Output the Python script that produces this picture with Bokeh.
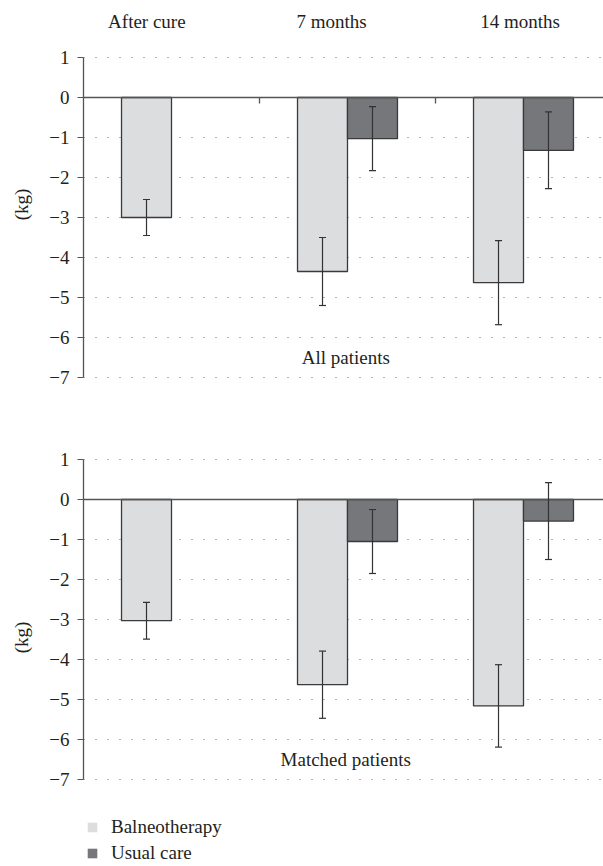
import math
from bokeh.plotting import figure
from bokeh.layouts import column
from bokeh.models import (Range1d, FixedTicker, Whisker, TeeHead, ColumnDataSource,
                          Legend, LegendItem, Span)
from bokeh.embed import file_html
from bokeh.resources import INLINE
from bokeh.core.properties import value

# ---------------- data ----------------
categories = ["After cure", "7 months", "14 months"]
series = ["Balneotherapy", "Usual care"]

all_balneo = [-3.0, -4.35, -4.63]
all_balneo_err = [0.45, 0.85, 1.05]
all_usual = [None, -1.03, -1.32]
all_usual_err = [None, 0.80, 0.96]

matched_balneo = [-3.03, -4.63, -5.16]
matched_balneo_err = [0.46, 0.84, 1.03]
matched_usual = [None, -1.05, -0.54]
matched_usual_err = [None, 0.80, 0.96]

y_ticks = [-7, -6, -5, -4, -3, -2, -1, 0, 1]

# ---------------- style ----------------
FONT = "Liberation Serif"
FS = "19px"
TXT = "#231f20"
BALNEO_COLOR = "#dcdddf"
USUAL_COLOR = "#76777b"
EDGE = "#3a3a3a"
BAR_W = 0.284
OFFSET = 0.142
PX_PER_CAT = 176.0
FRAME_W = 520
LEFT = 83


def make_panel(balneo, berr, usual, uerr, note, y_bottom, y_top, height,
               top_labels, cat_ticks):
    p = figure(width=LEFT + FRAME_W, height=height,
               x_range=Range1d(0, FRAME_W / PX_PER_CAT),
               y_range=Range1d(y_bottom, y_top),
               output_backend="svg", toolbar_location=None,
               x_axis_location=None,
               min_border_left=LEFT, min_border_right=0,
               min_border_top=0, min_border_bottom=0)
    p.outline_line_color = None
    p.background_fill_color = "white"
    p.border_fill_color = "white"

    # y axis
    ax = p.yaxis[0]
    ax.ticker = FixedTicker(ticks=y_ticks)
    ax.bounds = (min(y_ticks), max(y_ticks))
    ax.major_label_overrides = {t: str(t).replace("-", "\u2212") for t in y_ticks}
    ax.axis_line_color = "#555555"
    ax.axis_line_width = 1.3
    ax.major_tick_line_color = "#555555"
    ax.major_tick_out = 6
    ax.major_tick_in = 0
    ax.minor_tick_line_color = None
    ax.major_label_standoff = 8
    ax.major_label_text_font = FONT
    ax.major_label_text_font_size = FS
    ax.major_label_text_color = TXT
    ax.axis_label = "(kg)"
    ax.axis_label_standoff = 14
    ax.axis_label_text_font = FONT
    ax.axis_label_text_font_size = FS
    ax.axis_label_text_font_style = "normal"
    ax.axis_label_text_color = TXT

    # grid
    p.xgrid.visible = False
    p.ygrid.ticker = FixedTicker(ticks=[t for t in y_ticks if t != 0])
    p.ygrid.grid_line_color = "#666666"
    p.ygrid.grid_line_dash = "1 11"
    p.ygrid.grid_line_width = 1

    # zero line
    p.add_layout(Span(location=0, dimension="width", line_color="#555555",
                      line_width=1.5, level="glyph"))

    centers = [i + 0.5 for i in range(len(categories))]
    bx = [c - OFFSET for c in centers]
    ux = [c + OFFSET for c, v in zip(centers, usual) if v is not None]
    uv = [v for v in usual if v is not None]
    ue = [e for e in uerr if e is not None]

    p.vbar(x=bx, top=balneo, bottom=0, width=BAR_W, fill_color=BALNEO_COLOR,
           line_color=EDGE, line_width=1.3)
    p.vbar(x=ux, top=uv, bottom=0, width=BAR_W, fill_color=USUAL_COLOR,
           line_color=EDGE, line_width=1.3)

    for xs, vs, es in ((bx, balneo, berr), (ux, uv, ue)):
        src = ColumnDataSource(dict(x=xs,
                                    upper=[v + e for v, e in zip(vs, es)],
                                    lower=[v - e for v, e in zip(vs, es)]))
        w = Whisker(base="x", upper="upper", lower="lower", source=src,
                    line_color="#333333", line_width=1.2, level="overlay",
                    upper_head=TeeHead(size=7, line_color="#333333", line_width=1.2),
                    lower_head=TeeHead(size=7, line_color="#333333", line_width=1.2))
        p.add_layout(w)

    if cat_ticks:
        b = list(range(1, len(categories)))
        p.segment(x0=b, x1=b, y0=[0] * len(b), y1=[-0.15] * len(b),
                  line_color="#555555", line_width=1.3)

    if top_labels:
        p.text(x=[0.36, 1.41, 2.48], y=[1.9] * 3, text=categories,
               text_font=value(FONT), text_font_size=FS, text_color=TXT,
               text_align="center", text_baseline="middle")

    p.text(x=[1.49], y=[-6.5], text=[note], text_font=value(FONT),
           text_font_size=FS, text_color=TXT, text_align="center",
           text_baseline="middle")
    return p


p1 = make_panel(all_balneo, all_balneo_err, all_usual, all_usual_err,
                "All patients", -7.775, 2.425, 408, True, True)
p2 = make_panel(matched_balneo, matched_balneo_err, matched_usual,
                matched_usual_err, "Matched patients", -9.175, 2.275, 458,
                False, False)

nan = float("nan")
r1 = p2.vbar(x=[0.5], top=[nan], width=BAR_W, fill_color=BALNEO_COLOR, line_color=None)
r2 = p2.vbar(x=[0.5], top=[nan], width=BAR_W, fill_color=USUAL_COLOR, line_color=None)
legend = Legend(items=[LegendItem(label=series[0], renderers=[r1]),
                       LegendItem(label=series[1], renderers=[r2])],
                location=(3, 2), orientation="vertical",
                glyph_width=12, glyph_height=12, label_standoff=13,
                label_text_font=FONT, label_text_font_size=FS,
                label_text_color=TXT, label_height=16, spacing=4,
                padding=0, margin=0, border_line_alpha=0,
                background_fill_alpha=0)
p2.add_layout(legend)

layout = column(p1, p2, spacing=0)
open("out.html", "w").write(file_html(layout, INLINE))
